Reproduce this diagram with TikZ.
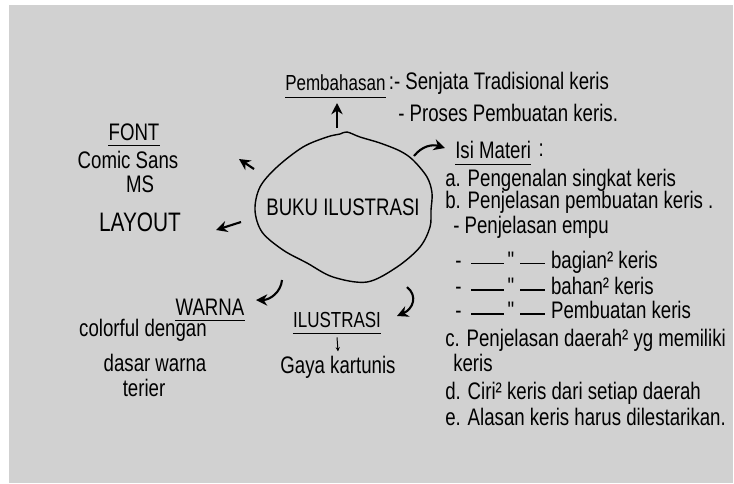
\documentclass[tikz,border=0pt]{standalone}
\usepackage{fontspec}
\newfontfamily\handfont[FakeStretch=0.78]{Liberation Sans}
\usetikzlibrary{arrows.meta}
\usetikzlibrary{positioning}
\definecolor{paper}{RGB}{209,209,209}
\tikzset{hand/.style={font=\handfont\fontsize{17}{20}\selectfont,inner sep=0pt}}
\tikzset{smallhand/.style={font=\handfont\fontsize{15.5}{18}\selectfont,inner sep=0pt}}
\tikzset{big/.style={font=\handfont\fontsize{19}{22}\selectfont,inner sep=0pt}}
\tikzset{arr/.style={line width=1.5pt,-{Stealth[length=8pt,width=8pt]}}}
\tikzset{thinarr/.style={line width=0.7pt,-{Stealth[length=3pt,width=3pt]}}}
\tikzset{uline/.style={line width=0.9pt}}
\newcommand{\dittoline}{\rule[0.3ex]{23pt}{1pt}\,\textquotedbl\,\rule[0.3ex]{18pt}{1pt}}

\begin{document}
\begin{tikzpicture}[x=0.025cm,y=-0.025cm,node distance=0pt]
\fill[white] (0,0) rectangle (734,483);
\fill[paper] (9,5) rectangle (733,483);
\useasboundingbox (0,0) rectangle (734,483);

\draw[line width=1pt] plot[smooth cycle,tension=0.55] coordinates {
  (347,132) (360,137) (380,143) (400,151) (413,160) (427,177) (432,193)
  (431,210) (430,227) (420,247) (397,267) (367,282) (333,277) (307,263)
  (283,250) (262,232) (255,210) (260,187) (277,167) (303,147) (327,137) (340,134)};
\node[hand] (buku) at (343,207) {BUKU ILUSTRASI};

\node[smallhand,anchor=west] (pembahasan) at (285,83) {Pembahasan};
\node[hand,right=2pt of pembahasan] (senjata) {:- Senjata Tradisional keris};
\node[hand,anchor=west] (proses) at (398,113) {- Proses Pembuatan keris.};
\draw[uline] ([yshift=-5pt]pembahasan.base west) -- ([yshift=-5pt]pembahasan.base east);

\node[hand,anchor=west] (isi) at (455,150) {Isi Materi};
\node[hand,right=5pt of isi] (isititik) {:};
\draw[uline] ([yshift=-4pt]isi.base west) -- ([yshift=-4pt]isi.base east);
\foreach \n/\yy/\t in {a/180/{a. Pengenalan singkat keris},
                       b/202/{b. Penjelasan pembuatan keris .},
                       c/340/{c. Penjelasan daerah² yg memiliki},
                       d/393/{d. Ciri² keris dari setiap daerah},
                       e/417/{e. Alasan keris harus dilestarikan.}} {
	\node[hand,anchor=west] (item\n) at (445,\yy) {\t};
	}
\node[hand,anchor=west] (empu) at (453,227) {- Penjelasan empu};
\foreach \n/\yy/\t in {bagian/262/{bagian² keris},
                       bahan/286/{bahan² keris},
                       buat/310/{Pembuatan keris}} {
	\node[hand,anchor=west] (sub\n) at (455,\yy) {-\hspace{7pt}\dittoline\hspace{4pt}\t};
	}
\node[hand,anchor=west] (keris) at (453,363) {keris};

\node[hand] (font) at (134,132) {FONT};
\draw[uline] ([yshift=-4pt]font.base west) -- ([yshift=-4pt]font.base east);
\node[hand] (comic) at (128,160) {Comic Sans};
\node[hand] (ms) at (140,184) {MS};
\node[big] (layout) at (140,222) {LAYOUT};

\node[hand] (warna) at (210,307) {WARNA};
\draw[uline] ([yshift=-4pt]warna.base west) -- ([yshift=-4pt]warna.base east);
\node[hand] (colorful) at (143,330) {colorful dengan};
\node[hand] (dasar) at (155,363) {dasar warna};
\node[hand] (terier) at (144,388) {terier};

\node[smallhand] (ilustrasi) at (337,320) {ILUSTRASI};
\draw[uline] ([yshift=-4pt]ilustrasi.base west) -- ([yshift=-4pt]ilustrasi.base east);
\node[hand] (gaya) at (338,367) {Gaya kartunis};
\draw[thinarr] ([yshift=-7pt]ilustrasi.base) -- ([yshift=3pt]gaya.north);

\coordinate (upA) at (337,128);
\coordinate (upB) at (337,103);
\coordinate (isiA) at (414,156);
\coordinate (isiB) at (445,148);
\coordinate (fontA) at (254,169);
\coordinate (fontB) at (239,159);
\coordinate (layoutA) at (241,222);
\coordinate (layoutB) at (216,230);
\coordinate (warnaA) at (282,280);
\coordinate (warnaB) at (256,300);
\coordinate (ilusA) at (407,287);
\coordinate (ilusB) at (397,316);
\draw[arr] (upA) -- (upB);
\draw[arr] (isiA) .. controls (422,146) and (432,144) .. (isiB);
\draw[arr] (fontA) -- (fontB);
\draw[arr] (layoutA) -- (layoutB);
\draw[arr] (warnaA) .. controls (281,292) and (270,300) .. (warnaB);
\draw[arr] (ilusA) .. controls (418,296) and (413,309) .. (ilusB);
\end{tikzpicture}
\end{document}
